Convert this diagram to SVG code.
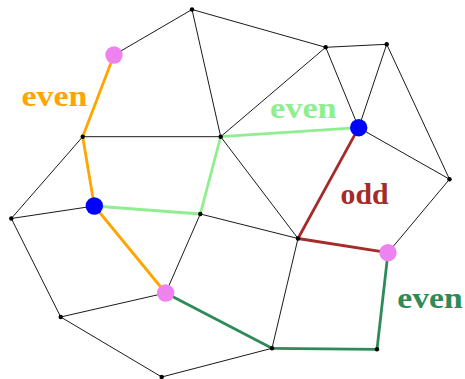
<svg xmlns="http://www.w3.org/2000/svg" width="465" height="379" viewBox="0 0 465 379">
<style>
.e{stroke:#000;stroke-width:0.9;fill:none;stroke-linecap:round}
.or{stroke:#FFA500;stroke-width:2.8;fill:none;stroke-linecap:round}
.lg{stroke:#90EE90;stroke-width:2.8;fill:none;stroke-linecap:round}
.rd{stroke:#A52A2A;stroke-width:2.8;fill:none;stroke-linecap:round}
.sg{stroke:#2E8B57;stroke-width:2.8;fill:none;stroke-linecap:round}
.d{fill:#000}
.pk{fill:#EE82EE}
.bl{fill:#0000FF}
.t{font-family:"Liberation Serif","Times New Roman",serif;font-weight:bold;font-size:29px}
</style>
<rect width="465" height="379" fill="#fff"/>
<g id="connectors">
<line class="e" x1="192" y1="9.5" x2="114" y2="55"/>
<line class="e" x1="192" y1="9.5" x2="325.7" y2="47.3"/>
<line class="e" x1="192" y1="9.5" x2="220.7" y2="136.7"/>
<line class="e" x1="325.7" y1="47.3" x2="386.7" y2="44.3"/>
<line class="e" x1="325.7" y1="47.3" x2="358.7" y2="127.7"/>
<line class="e" x1="325.7" y1="47.3" x2="220.7" y2="136.7"/>
<line class="e" x1="386.7" y1="44.3" x2="358.7" y2="127.7"/>
<line class="e" x1="386.7" y1="44.3" x2="449.5" y2="179.2"/>
<line class="e" x1="358.7" y1="127.7" x2="449.5" y2="179.2"/>
<line class="e" x1="449.5" y1="179.2" x2="388" y2="252.7"/>
<line class="e" x1="82.7" y1="136.7" x2="220.7" y2="136.7"/>
<line class="e" x1="82.7" y1="136.7" x2="11.3" y2="218.5"/>
<line class="e" x1="11.3" y1="218.5" x2="94.3" y2="206"/>
<line class="e" x1="11.3" y1="218.5" x2="60.7" y2="317"/>
<line class="e" x1="220.7" y1="136.7" x2="298" y2="238.5"/>
<line class="e" x1="200.3" y1="214" x2="298" y2="238.5"/>
<line class="e" x1="200.3" y1="214" x2="165.7" y2="293"/>
<line class="e" x1="298" y1="238.5" x2="272" y2="348.3"/>
<line class="e" x1="60.7" y1="317" x2="165.7" y2="293"/>
<line class="e" x1="60.7" y1="317" x2="161.7" y2="377"/>
<line class="e" x1="161.7" y1="377" x2="272" y2="348.3"/>
<line class="or" x1="114" y1="55" x2="82.7" y2="136.7"/>
<line class="or" x1="82.7" y1="136.7" x2="94.3" y2="206"/>
<line class="or" x1="94.3" y1="206" x2="165.7" y2="293"/>
<line class="lg" x1="94.3" y1="206" x2="200.3" y2="214"/>
<line class="lg" x1="200.3" y1="214" x2="220.7" y2="136.7"/>
<line class="lg" x1="220.7" y1="136.7" x2="358.7" y2="127.7"/>
<line class="rd" x1="358.7" y1="127.7" x2="298" y2="238.5"/>
<line class="rd" x1="298" y1="238.5" x2="388" y2="252.7"/>
<line class="sg" x1="165.7" y1="293" x2="272" y2="348.3"/>
<line class="sg" x1="272" y1="348.3" x2="377" y2="349.3"/>
<line class="sg" x1="377" y1="349.3" x2="388" y2="252.7"/>
</g>
<g id="labels">
<text class="t" x="21.5" y="105.5" fill="#FFA500" textLength="66" lengthAdjust="spacingAndGlyphs">even</text>
<text class="t" x="270" y="118" fill="#90EE90" textLength="66.7" lengthAdjust="spacingAndGlyphs">even</text>
<text class="t" x="340.5" y="204" fill="#A52A2A" textLength="48" lengthAdjust="spacingAndGlyphs">odd</text>
<text class="t" x="397.3" y="308" fill="#2E8B57" textLength="65.4" lengthAdjust="spacingAndGlyphs">even</text>
</g>
<g id="nA"><circle class="d" cx="192" cy="9.5" r="2.2"/></g>
<g id="nB"><circle class="pk" cx="114" cy="55" r="8.7"/></g>
<g id="nC"><circle class="d" cx="325.7" cy="47.3" r="2.2"/></g>
<g id="nD"><circle class="d" cx="386.7" cy="44.3" r="2.2"/></g>
<g id="nE"><circle class="d" cx="82.7" cy="136.7" r="2.2"/></g>
<g id="nF"><circle class="d" cx="220.7" cy="136.7" r="2.2"/></g>
<g id="nG"><circle class="bl" cx="358.7" cy="127.7" r="8.7"/></g>
<g id="nH"><circle class="d" cx="449.5" cy="179.2" r="2.2"/></g>
<g id="nI"><circle class="d" cx="11.3" cy="218.5" r="2.2"/></g>
<g id="nJ"><circle class="bl" cx="94.3" cy="206" r="8.7"/></g>
<g id="nK"><circle class="d" cx="200.3" cy="214" r="2.2"/></g>
<g id="nL"><circle class="d" cx="298" cy="238.5" r="2.2"/></g>
<g id="nM"><circle class="pk" cx="388" cy="252.7" r="8.7"/></g>
<g id="nN"><circle class="pk" cx="165.7" cy="293" r="8.7"/></g>
<g id="nO"><circle class="d" cx="60.7" cy="317" r="2.2"/></g>
<g id="nP"><circle class="d" cx="272" cy="348.3" r="2.2"/></g>
<g id="nQ"><circle class="d" cx="377" cy="349.3" r="2.2"/></g>
<g id="nR"><circle class="d" cx="161.7" cy="377" r="2.2"/></g>
</svg>
